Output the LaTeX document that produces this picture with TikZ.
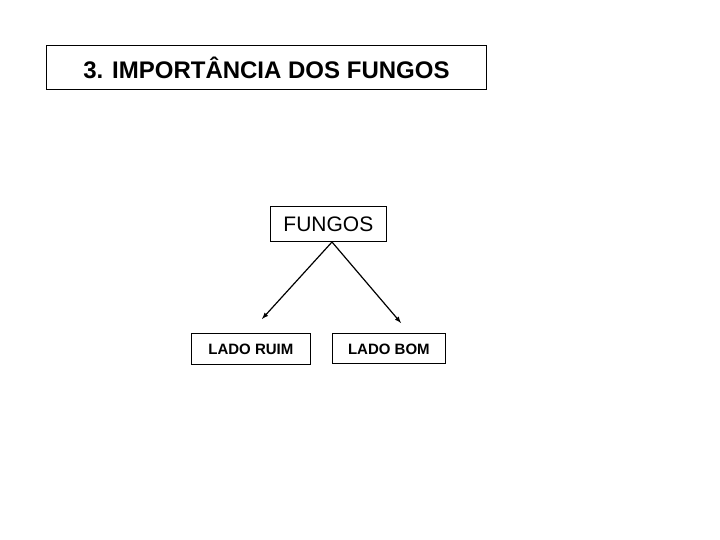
\documentclass[tikz,border=0pt]{standalone}
\usepackage{fontspec}
\setmainfont{Liberation Sans}
\begin{document}
\begin{tikzpicture}[x=1pt,y=-1pt,
  box/.style={draw,line width=0.8pt,inner sep=0pt,anchor=north west},
  arr/.style={line width=1.2pt,-latex}]
\useasboundingbox (0,0) rectangle (720,540);
\node[box,minimum width=440,minimum height=44] (title) at (46,45) {};
\node at (title.center) {\fontsize{24}{28}\selectfont\bfseries 3. IMPORTÂNCIA DOS FUNGOS};
\node[box,minimum width=116,minimum height=35] (f) at (270,206) {};
\node at (f.center) {\fontsize{21}{24}\selectfont FUNGOS};
\node[box,minimum width=119,minimum height=31] (r) at (191,333) {};
\node at (r.center) {\fontsize{15}{18}\selectfont\bfseries LADO RUIM};
\node[box,minimum width=113,minimum height=30] (b) at (332,333) {};
\node at ([yshift=-1]b.center) {\fontsize{15}{18}\selectfont\bfseries LADO BOM};
\coordinate (s) at (332,242);
\coordinate (e1) at (262,319);
\coordinate (e2) at (401,323);
\draw[arr] (s) -- (e1);
\draw[arr] (s) -- (e2);
\end{tikzpicture}
\end{document}
